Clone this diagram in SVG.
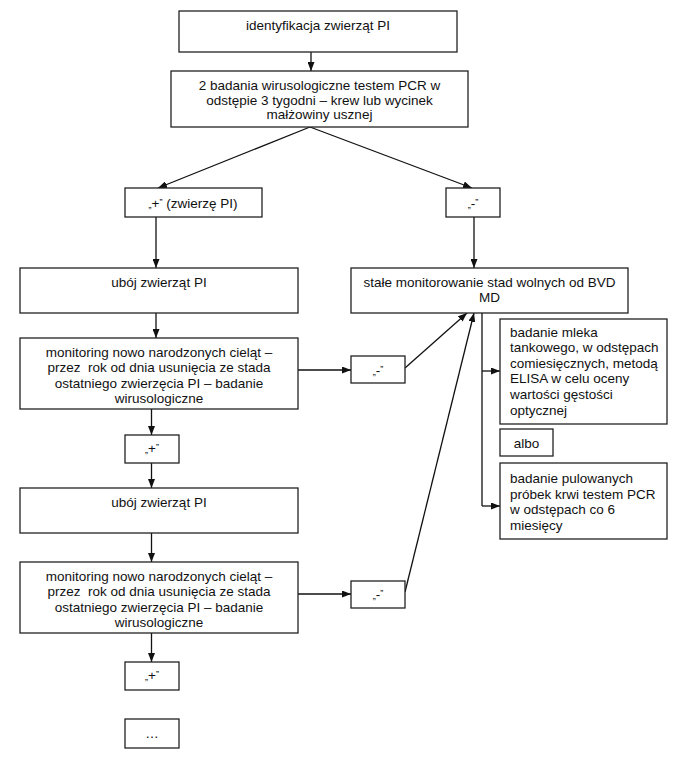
<svg xmlns="http://www.w3.org/2000/svg" width="678" height="758" viewBox="0 0 678 758">
<style>
rect{fill:#fff;stroke:#222;stroke-width:1.3}
text{font-family:"Liberation Sans",Arial,sans-serif;font-size:13.5px;fill:#111}
.c{text-anchor:middle}
.q{font-size:9px}
#connectors line,#connectors path{stroke:#111;stroke-width:1.3;fill:none}
.a{marker-end:url(#ah)}
</style>
<defs>
<marker id="ah" viewBox="0 0 9 7" refX="9" refY="3.5" markerWidth="9" markerHeight="7" markerUnits="userSpaceOnUse" orient="auto"><path d="M0,0 L9,3.5 L0,7 z" fill="#111"/></marker>
</defs>
<rect width="678" height="758" style="fill:#fff;stroke:none"/>
<g id="connectors">
<line class="a" x1="311" y1="52" x2="311" y2="71"/>
<line class="a" x1="310" y1="127" x2="158" y2="188"/>
<line class="a" x1="310" y1="127" x2="472" y2="188"/>
<line class="a" x1="156" y1="217" x2="156" y2="268"/>
<line class="a" x1="474" y1="217" x2="474" y2="268"/>
<line class="a" x1="156" y1="313" x2="156" y2="338"/>
<line class="a" x1="298" y1="370" x2="351" y2="370"/>
<line class="a" x1="405" y1="368" x2="467" y2="313"/>
<line class="a" x1="151.5" y1="409" x2="151.5" y2="435"/>
<line class="a" x1="151.5" y1="463" x2="151.5" y2="488"/>
<line class="a" x1="151.5" y1="533" x2="151.5" y2="562"/>
<line class="a" x1="298" y1="594" x2="351" y2="594"/>
<line class="a" x1="405" y1="592" x2="474" y2="313"/>
<line class="a" x1="151.5" y1="633" x2="151.5" y2="662"/>
<path d="M482,313 V506"/>
<line class="a" x1="482" y1="371" x2="500" y2="371"/>
<line class="a" x1="482" y1="506" x2="500" y2="506"/>
</g>
<g id="n1"><rect x="179" y="11" width="278" height="41"/><text class="c" x="318" y="30">identyfikacja zwierząt PI</text></g>
<g id="n2"><rect x="171" y="71" width="297" height="56"/>
<text class="c" x="319.5" y="90">2 badania wirusologiczne testem PCR w</text>
<text class="c" x="319.5" y="104.5">odstępie 3 tygodni – krew lub wycinek</text>
<text class="c" x="319.5" y="119">małżowiny usznej</text></g>
<g id="n3"><rect x="125" y="188" width="137" height="29"/><text class="c" x="193" y="208"><tspan class="q">„</tspan>+<tspan class="q" dy="-3">”</tspan><tspan dy="3"> (zwierzę PI)</tspan></text></g>
<g id="n4"><rect x="446" y="188" width="54" height="29"/><text class="c" x="473" y="208"><tspan class="q">„</tspan>-<tspan class="q" dy="-3">”</tspan></text></g>
<g id="n5"><rect x="20" y="268" width="278" height="45"/><text class="c" x="159" y="286.5">ubój zwierząt PI</text></g>
<g id="n6"><rect x="351" y="268" width="277" height="45"/>
<text class="c" x="489.5" y="286.5">stałe monitorowanie stad wolnych od BVD</text>
<text class="c" x="489.5" y="301.5">MD</text></g>
<g id="n7"><rect x="20" y="338" width="278" height="71"/>
<text class="c" x="159" y="356.5">monitoring nowo narodzonych cieląt –</text>
<text class="c" x="159" y="372" xml:space="preserve">przez  rok od dnia usunięcia ze stada</text>
<text class="c" x="159" y="387.5">ostatniego zwierzęcia PI – badanie</text>
<text class="c" x="159" y="403">wirusologiczne</text></g>
<g id="n8"><rect x="351" y="356" width="54" height="27"/><text class="c" x="378" y="375"><tspan class="q">„</tspan>-<tspan class="q" dy="-3">”</tspan></text></g>
<g id="n9"><rect x="500" y="319" width="167" height="105"/>
<text x="510" y="336.5">badanie mleka</text>
<text x="510" y="352.1">tankowego, w odstępach</text>
<text x="510" y="367.7">comiesięcznych, metodą</text>
<text x="510" y="383.3">ELISA w celu oceny</text>
<text x="510" y="398.9">wartości gęstości</text>
<text x="510" y="414.5">optycznej</text></g>
<g id="n10"><rect x="500" y="429" width="53" height="27"/><text class="c" x="526.5" y="447.5">albo</text></g>
<g id="n11"><rect x="500" y="463" width="167" height="76"/>
<text x="510" y="483">badanie pulowanych</text>
<text x="510" y="498.6">próbek krwi testem PCR</text>
<text x="510" y="514.2">w odstępach co 6</text>
<text x="510" y="529.8">miesięcy</text></g>
<g id="n12"><rect x="125" y="435" width="54" height="28"/><text class="c" x="152" y="453"><tspan class="q">„</tspan>+<tspan class="q" dy="-3">”</tspan></text></g>
<g id="n13"><rect x="20" y="488" width="278" height="45"/><text class="c" x="159" y="506.5">ubój zwierząt PI</text></g>
<g id="n14"><rect x="20" y="562" width="278" height="71"/>
<text class="c" x="159" y="580.5">monitoring nowo narodzonych cieląt –</text>
<text class="c" x="159" y="596" xml:space="preserve">przez  rok od dnia usunięcia ze stada</text>
<text class="c" x="159" y="611.5">ostatniego zwierzęcia PI – badanie</text>
<text class="c" x="159" y="627">wirusologiczne</text></g>
<g id="n15"><rect x="351" y="581" width="54" height="27"/><text class="c" x="378" y="599"><tspan class="q">„</tspan>-<tspan class="q" dy="-3">”</tspan></text></g>
<g id="n16"><rect x="125" y="662" width="54" height="28"/><text class="c" x="152" y="680"><tspan class="q">„</tspan>+<tspan class="q" dy="-3">”</tspan></text></g>
<g id="n17"><rect x="125" y="719" width="54" height="29"/><text class="c" x="152" y="738">…</text></g>
</svg>
